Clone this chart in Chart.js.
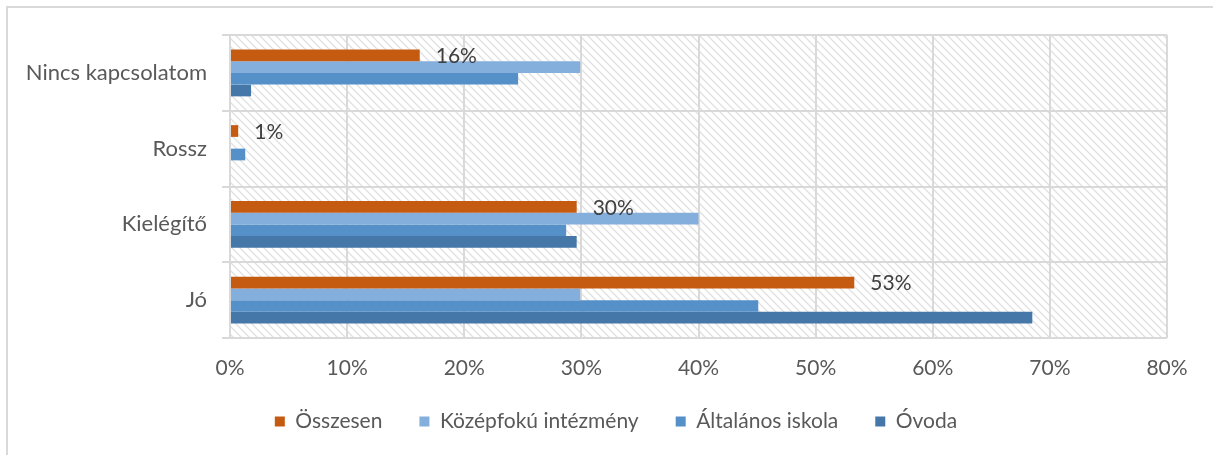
<!DOCTYPE html>
<html>
<head>
<meta charset="utf-8">
<script src="https://cdn.jsdelivr.net/npm/chart.js@4/dist/chart.umd.min.js"></script>
<style>
html,body{margin:0;padding:0;background:#fff;}
#wrap{width:1213px;height:455px;position:relative;}
</style>
</head>
<body>
<div id="wrap"><canvas id="c" width="1213" height="455"></canvas></div>
<script>
const categories = ['Nincs kapcsolatom', 'Rossz', 'Kielégítő', 'Jó'];
const seriesNames = ['Összesen', 'Középfokú intézmény', 'Általános iskola', 'Óvoda'];
const osszesen = [16.2, 0.7, 29.6, 53.3];
const kozepfoku = [29.9, 0, 40.0, 29.9];
const altalanos = [24.6, 1.3, 28.7, 45.1];
const ovoda = [1.8, 0, 29.6, 68.5];
const osszesenLabels = ['16%', '1%', '30%', '53%'];
const xTicks = [0, 10, 20, 30, 40, 50, 60, 70, 80];
const colors = ['#C55A11', '#84AEDC', '#5591C8', '#4677A9'];

const FONT = 'Lato, "Liberation Sans", sans-serif';

function makePattern(ctx) {
  const p = document.createElement('canvas');
  p.width = 8; p.height = 8;
  const g = p.getContext('2d');
  g.fillStyle = '#ffffff';
  g.fillRect(0, 0, 8, 8);
  g.strokeStyle = '#e0e0e0';
  g.lineWidth = 1.3;
  g.beginPath();
  g.moveTo(-2, -2); g.lineTo(10, 10);
  g.moveTo(-10, -2); g.lineTo(2, 10);
  g.moveTo(6, -2); g.lineTo(18, 10);
  g.stroke();
  return ctx.createPattern(p, 'repeat');
}

const bgPlugin = {
  id: 'bgPlugin',
  afterLayout(chart) {
    const lg = chart.legend;
    if (lg) {
      lg.left = 65;
      lg.top -= 13;
      lg.bottom -= 13;
    }
  },
  beforeDraw(chart) {
    const ctx = chart.ctx;
    const a = chart.chartArea;
    ctx.save();
    ctx.fillStyle = '#fff';
    ctx.fillRect(0, 0, chart.width, chart.height);
    ctx.strokeStyle = '#d9d9d9';
    ctx.lineWidth = 2;
    ctx.beginPath();
    ctx.moveTo(7, chart.height + 2);
    ctx.lineTo(7, 7);
    ctx.lineTo(chart.width + 2, 7);
    ctx.stroke();
    ctx.fillStyle = makePattern(ctx);
    ctx.fillRect(a.left, a.top, a.right - a.left, a.bottom - a.top);
    ctx.restore();
  }
};

const labelPlugin = {
  id: 'labelPlugin',
  afterDatasetsDraw(chart) {
    const ctx = chart.ctx;
    const meta = chart.getDatasetMeta(0);
    ctx.save();
    ctx.font = '21px ' + FONT;
    ctx.fillStyle = '#404040';
    ctx.textAlign = 'left';
    ctx.textBaseline = 'middle';
    meta.data.forEach((bar, i) => {
      ctx.fillText(osszesenLabels[i], bar.x + 16, bar.y + 1);
    });
    ctx.restore();
  }
};

const datasets = [osszesen, kozepfoku, altalanos, ovoda].map((d, i) => ({
  label: seriesNames[i],
  data: d,
  backgroundColor: colors[i],
  borderWidth: 0,
  categoryPercentage: 0.62,
  barPercentage: 1.0
}));

new Chart(document.getElementById('c'), {
  type: 'bar',
  data: { labels: categories, datasets },
  plugins: [bgPlugin, labelPlugin],
  options: {
    indexAxis: 'y',
    responsive: false,
    animation: false,
    layout: { padding: { left: 0, right: 46, top: 35, bottom: 0 } },
    scales: {
      x: {
        min: 0, max: 80,
        afterBuildTicks(scale) { scale.ticks = xTicks.map(v => ({ value: v })); },
        afterFit(scale) { scale.height = 49; },
        border: { display: false },
        grid: { color: '#d9d9d9', lineWidth: 2, drawTicks: false },
        ticks: {
          padding: 18,
          color: '#595959',
          font: { family: FONT, size: 21 },
          callback: (v) => v + '%'
        }
      },
      y: {
        afterFit(scale) { scale.width = 230; },
        border: { display: false },
        grid: { color: '#d9d9d9', lineWidth: 2, offset: true, tickLength: 8 },
        ticks: {
          padding: 15,
          color: '#595959',
          font: { family: FONT, size: 22 }
        }
      }
    },
    plugins: {
      legend: {
        position: 'bottom',
        labels: {
          boxWidth: 10, boxHeight: 10,
          padding: 37,
          color: '#595959',
          font: { family: FONT, size: 21 }
        }
      },
      tooltip: { enabled: false }
    }
  }
});
</script>
</body>
</html>
